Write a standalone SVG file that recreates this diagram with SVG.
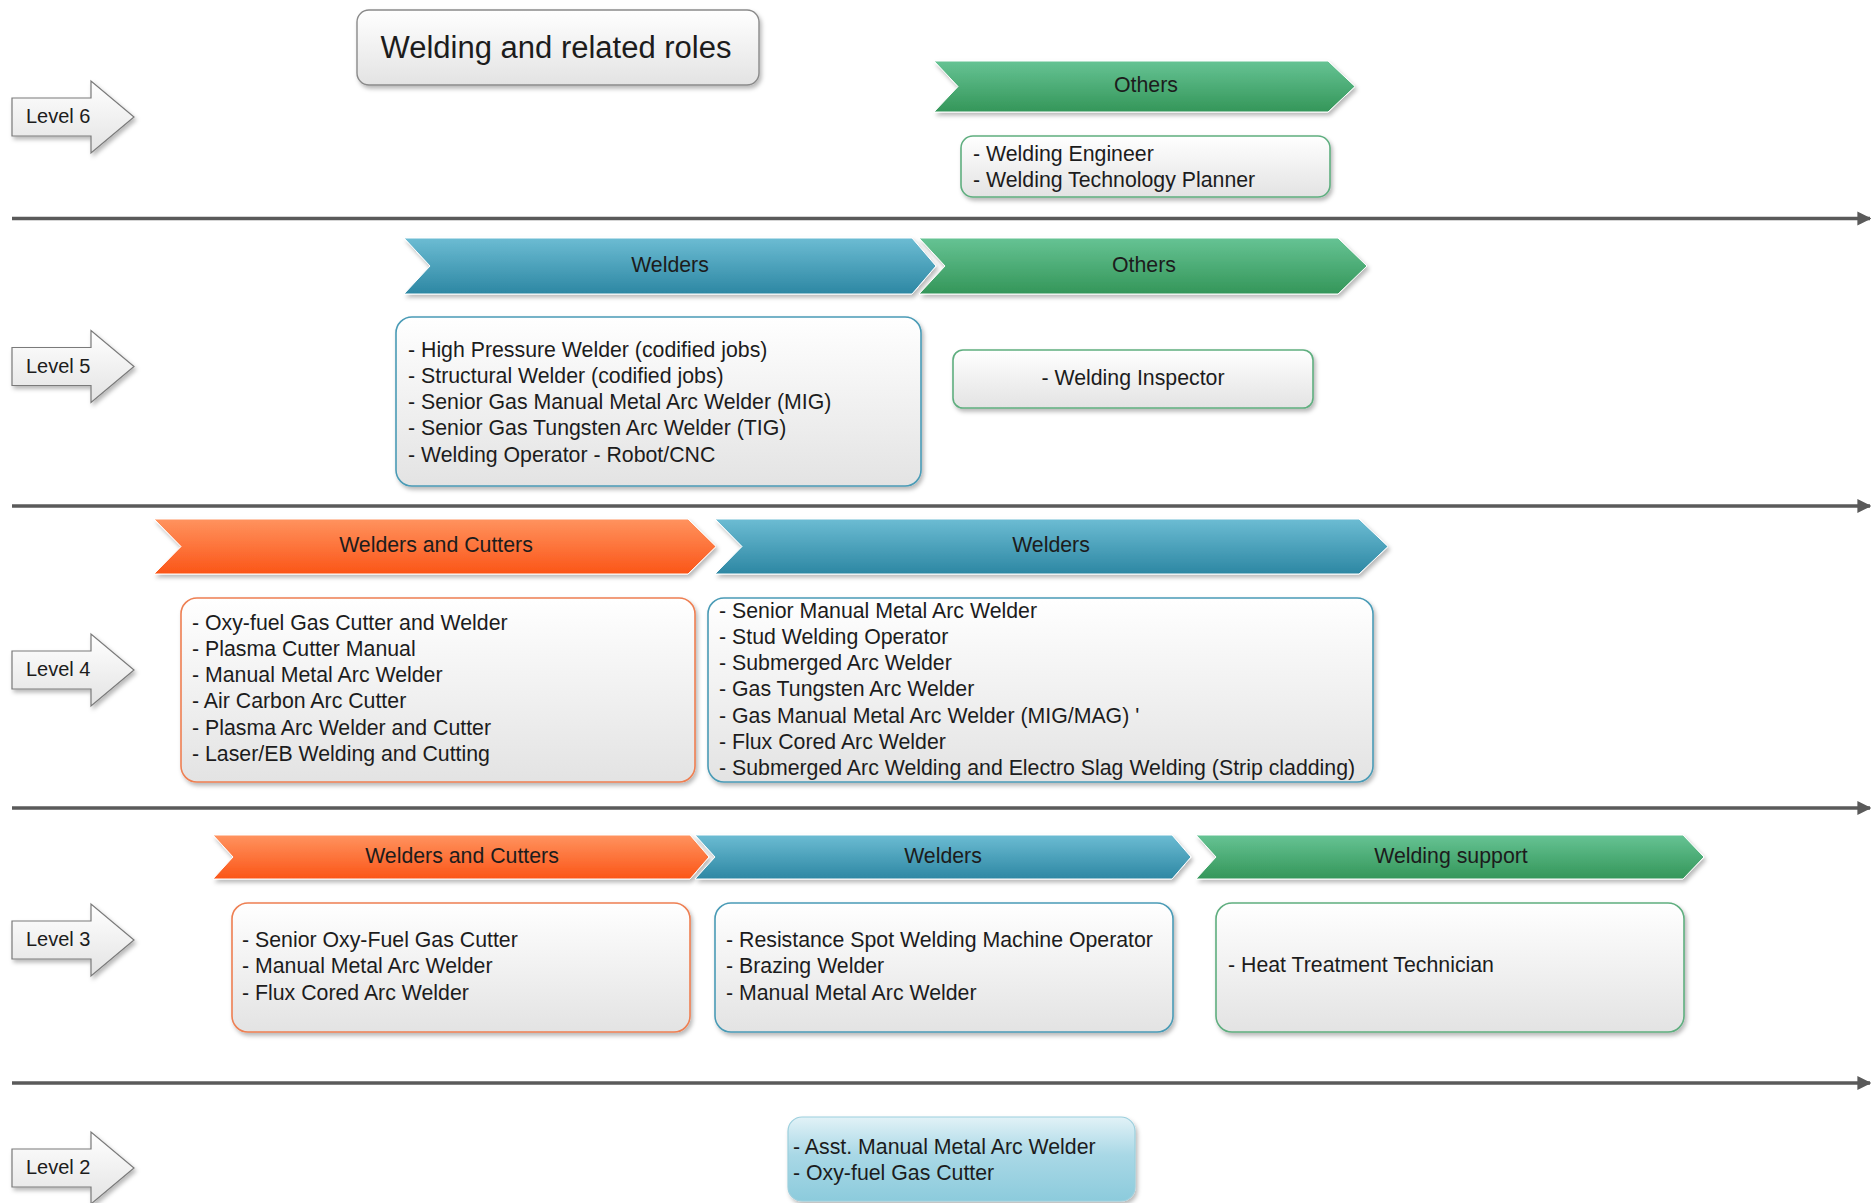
<svg xmlns="http://www.w3.org/2000/svg" width="1872" height="1203" viewBox="0 0 1872 1203">
<style>
text{font-family:"Liberation Sans",Arial,sans-serif;fill:#1c1c1c}
.lvl{font-size:20px}
.ban{font-size:21.3px;text-anchor:middle}
.lst{font-size:21.3px}
.title{font-size:31px;text-anchor:middle}
.arrowlvl{fill:url(#gWhite);stroke:#7a7a7a;stroke-width:1.2;filter:url(#sh)}
.box{stroke-width:1.6;filter:url(#sh)}
.bxG{fill:url(#gWhite);stroke:#5fae7f}
.bxB{fill:url(#gWhite);stroke:#4a9bb6}
.bxO{fill:url(#gWhite);stroke:#ee7f52}
.chG{fill:url(#gGreen);stroke:#fff;stroke-width:1;filter:url(#sh)}
.chB{fill:url(#gBlue);stroke:#fff;stroke-width:1;filter:url(#sh)}
.chO{fill:url(#gOrange);stroke:#fff;stroke-width:1;filter:url(#sh)}
.sep{stroke:#5a5a5a;stroke-width:3.5;fill:none;marker-end:url(#ah)}
</style>
<defs>
<linearGradient id="gWhite" x1="0" y1="0" x2="0" y2="1"><stop offset="0" stop-color="#ffffff"/><stop offset="1" stop-color="#e3e3e3"/></linearGradient>
<linearGradient id="gGreen" x1="0" y1="0" x2="0" y2="1"><stop offset="0" stop-color="#66c394"/><stop offset="1" stop-color="#349659"/></linearGradient>
<linearGradient id="gBlue" x1="0" y1="0" x2="0" y2="1"><stop offset="0" stop-color="#6cbcd3"/><stop offset="1" stop-color="#2d87a3"/></linearGradient>
<linearGradient id="gOrange" x1="0" y1="0" x2="0" y2="1"><stop offset="0" stop-color="#ff935f"/><stop offset="1" stop-color="#fb5517"/></linearGradient>
<linearGradient id="gLBlue" x1="0" y1="0" x2="0" y2="1"><stop offset="0" stop-color="#e2f2f7"/><stop offset="0.45" stop-color="#a9d8e6"/><stop offset="1" stop-color="#8ccbdc"/></linearGradient>
<filter id="sh" x="-10%" y="-20%" width="120%" height="150%"><feDropShadow dx="2" dy="3" stdDeviation="2" flood-color="#000" flood-opacity="0.28"/></filter>
<marker id="ah" viewBox="0 0 10 10" refX="9" refY="5" markerWidth="4" markerHeight="4.4" markerUnits="strokeWidth" orient="auto"><path d="M0,0 L10,5 L0,10 Z" fill="#5a5a5a"/></marker>
</defs>

<g id="connectors">
<line class="sep" x1="12" y1="218.5" x2="1870" y2="218.5"/>
<line class="sep" x1="12" y1="506" x2="1870" y2="506"/>
<line class="sep" x1="12" y1="808" x2="1870" y2="808"/>
<line class="sep" x1="12" y1="1083" x2="1870" y2="1083"/>
</g>

<g id="title">
<rect x="357" y="10" width="402" height="75" rx="12" fill="url(#gWhite)" stroke="#8a8a8a" stroke-width="1.4" filter="url(#sh)"/>
<text class="title" x="556" y="58">Welding and related roles</text>
</g>

<g id="level6">
<path class="arrowlvl" d="M12,98 H91 V81 L134,117 L91,153 V136 H12 Z"/>
<text class="lvl" x="26" y="123">Level 6</text>
</g>
<g id="level5">
<path class="arrowlvl" d="M12,347.5 H91 V330.5 L134,366.5 L91,402.5 V385.5 H12 Z"/>
<text class="lvl" x="26" y="372.5">Level 5</text>
</g>
<g id="level4">
<path class="arrowlvl" d="M12,651 H91 V634 L134,670 L91,706 V689 H12 Z"/>
<text class="lvl" x="26" y="676">Level 4</text>
</g>
<g id="level3">
<path class="arrowlvl" d="M12,921 H91 V904 L134,940 L91,976 V959 H12 Z"/>
<text class="lvl" x="26" y="946">Level 3</text>
</g>
<g id="level2">
<path class="arrowlvl" d="M12,1149 H91 V1132 L134,1168 L91,1204 V1187 H12 Z"/>
<text class="lvl" x="26" y="1174">Level 2</text>
</g>

<!-- Level 6 -->
<g id="l6-others">
<polygon class="chG" points="934,61 1328,61 1355,86.5 1328,112 934,112 958,86.5"/>
<text class="ban" x="1146" y="92">Others</text>
</g>
<g id="l6-others-list">
<rect class="box bxG" x="961" y="136" width="369" height="61" rx="12"/>
<text class="lst"><tspan x="973" y="160.5">- Welding Engineer</tspan><tspan x="973" y="187">- Welding Technology Planner</tspan></text>
</g>

<!-- Level 5 -->
<g id="l5-welders">
<polygon class="chB" points="404,238 912,238 936,266 912,294 404,294 430,266"/>
<text class="ban" x="670" y="271.5">Welders</text>
</g>
<g id="l5-others">
<polygon class="chG" points="919,238 1338,238 1367,266 1338,294 919,294 945,266"/>
<text class="ban" x="1144" y="271.5">Others</text>
</g>
<g id="l5-welders-list">
<rect class="box bxB" x="396" y="317" width="525" height="169" rx="16"/>
<text class="lst"><tspan x="408" y="356.5">- High Pressure Welder (codified jobs)</tspan><tspan x="408" y="382.8">- Structural Welder (codified jobs)</tspan><tspan x="408" y="409.1">- Senior Gas Manual Metal Arc Welder (MIG)</tspan><tspan x="408" y="435.4">- Senior Gas Tungsten Arc Welder (TIG)</tspan><tspan x="408" y="461.7">- Welding Operator - Robot/CNC</tspan></text>
</g>
<g id="l5-others-list">
<rect class="box bxG" x="953" y="350" width="360" height="58" rx="10"/>
<text class="ban" x="1133" y="385">- Welding Inspector</text>
</g>

<!-- Level 4 -->
<g id="l4-welders-cutters">
<polygon class="chO" points="154,519 688,519 716,546.5 688,574 154,574 181,546.5"/>
<text class="ban" x="436" y="552">Welders and Cutters</text>
</g>
<g id="l4-welders">
<polygon class="chB" points="715,519 1359,519 1388,546.5 1359,574 715,574 742,546.5"/>
<text class="ban" x="1051" y="552">Welders</text>
</g>
<g id="l4-welders-cutters-list">
<rect class="box bxO" x="181" y="598" width="514" height="184" rx="16"/>
<text class="lst"><tspan x="192" y="629.5">- Oxy-fuel Gas Cutter and Welder</tspan><tspan x="192" y="655.8">- Plasma Cutter Manual</tspan><tspan x="192" y="682.1">- Manual Metal Arc Welder</tspan><tspan x="192" y="708.4">- Air Carbon Arc Cutter</tspan><tspan x="192" y="734.7">- Plasma Arc Welder and Cutter</tspan><tspan x="192" y="761">- Laser/EB Welding and Cutting</tspan></text>
</g>
<g id="l4-welders-list">
<rect class="box bxB" x="708" y="598" width="665" height="184" rx="16"/>
<text class="lst"><tspan x="719" y="617.5">- Senior Manual Metal Arc Welder</tspan><tspan x="719" y="643.8">- Stud Welding Operator</tspan><tspan x="719" y="670.1">- Submerged Arc Welder</tspan><tspan x="719" y="696.4">- Gas Tungsten Arc Welder</tspan><tspan x="719" y="722.7">- Gas Manual Metal Arc Welder (MIG/MAG) '</tspan><tspan x="719" y="749">- Flux Cored Arc Welder</tspan><tspan x="719" y="775.3">- Submerged Arc Welding and Electro Slag Welding (Strip cladding)</tspan></text>
</g>

<!-- Level 3 -->
<g id="l3-welders-cutters">
<polygon class="chO" points="213,835 690,835 709,857 690,879 213,879 233,857"/>
<text class="ban" x="462" y="862.5">Welders and Cutters</text>
</g>
<g id="l3-welders">
<polygon class="chB" points="695,835 1172,835 1191,857 1172,879 695,879 715,857"/>
<text class="ban" x="943" y="862.5">Welders</text>
</g>
<g id="l3-support">
<polygon class="chG" points="1196,835 1683,835 1704,857 1683,879 1196,879 1216,857"/>
<text class="ban" x="1451" y="862.5">Welding support</text>
</g>
<g id="l3-welders-cutters-list">
<rect class="box bxO" x="232" y="903" width="458" height="129" rx="16"/>
<text class="lst"><tspan x="242" y="947">- Senior Oxy-Fuel Gas Cutter</tspan><tspan x="242" y="973.3">- Manual Metal Arc Welder</tspan><tspan x="242" y="999.6">- Flux Cored Arc Welder</tspan></text>
</g>
<g id="l3-welders-list">
<rect class="box bxB" x="715" y="903" width="458" height="129" rx="16"/>
<text class="lst"><tspan x="726" y="947">- Resistance Spot Welding Machine Operator</tspan><tspan x="726" y="973.3">- Brazing Welder</tspan><tspan x="726" y="999.6">- Manual Metal Arc Welder</tspan></text>
</g>
<g id="l3-support-list">
<rect class="box bxG" x="1216" y="903" width="468" height="129" rx="16"/>
<text class="lst" x="1228" y="972">- Heat Treatment Technician</text>
</g>

<!-- Level 2 -->
<g id="l2-list">
<rect x="788" y="1117" width="347" height="84" rx="14" fill="url(#gLBlue)" stroke="#9ccfdd" stroke-width="1.2" filter="url(#sh)"/>
<text class="lst"><tspan x="793" y="1154">- Asst. Manual Metal Arc Welder</tspan><tspan x="793" y="1180">- Oxy-fuel Gas Cutter</tspan></text>
</g>
</svg>
